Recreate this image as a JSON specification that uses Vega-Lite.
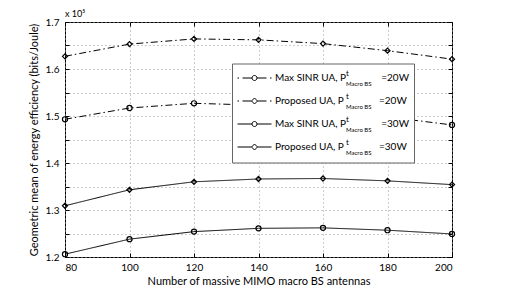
{
  "$schema": "https://vega.github.io/schema/vega-lite/v6.json",
  "width": 387,
  "height": 235,
  "autosize": {"type": "none"},
  "padding": {"left": 65, "top": 22, "right": 74, "bottom": 32},
  "background": "white",
  "title": {"text": "x 10⁵", "anchor": "start", "frame": "group", "font": "Lato", "fontSize": 9, "fontWeight": "normal", "offset": 3, "dy": 5, "color": "black"},
  "config": {
    "view": {"stroke": "black", "strokeWidth": 1},
    "axis": {"labelFont": "Lato", "titleFont": "Lato", "labelColor": "black", "titleColor": "black", "titleFontWeight": "normal", "domainColor": "black", "tickColor": "black"}
  },
  "data": {
    "values": [
      {"n": 80, "ee": 149300, "series": "Max SINR UA, 20W"},
      {"n": 100, "ee": 151700, "series": "Max SINR UA, 20W"},
      {"n": 120, "ee": 152700, "series": "Max SINR UA, 20W"},
      {"n": 140, "ee": 152300, "series": "Max SINR UA, 20W"},
      {"n": 160, "ee": 151200, "series": "Max SINR UA, 20W"},
      {"n": 180, "ee": 149800, "series": "Max SINR UA, 20W"},
      {"n": 200, "ee": 148100, "series": "Max SINR UA, 20W"},
      {"n": 80, "ee": 162700, "series": "Proposed UA, 20W"},
      {"n": 100, "ee": 165300, "series": "Proposed UA, 20W"},
      {"n": 120, "ee": 166400, "series": "Proposed UA, 20W"},
      {"n": 140, "ee": 166200, "series": "Proposed UA, 20W"},
      {"n": 160, "ee": 165400, "series": "Proposed UA, 20W"},
      {"n": 180, "ee": 163900, "series": "Proposed UA, 20W"},
      {"n": 200, "ee": 162100, "series": "Proposed UA, 20W"},
      {"n": 80, "ee": 120600, "series": "Max SINR UA, 30W"},
      {"n": 100, "ee": 123800, "series": "Max SINR UA, 30W"},
      {"n": 120, "ee": 125400, "series": "Max SINR UA, 30W"},
      {"n": 140, "ee": 126100, "series": "Max SINR UA, 30W"},
      {"n": 160, "ee": 126200, "series": "Max SINR UA, 30W"},
      {"n": 180, "ee": 125700, "series": "Max SINR UA, 30W"},
      {"n": 200, "ee": 124900, "series": "Max SINR UA, 30W"},
      {"n": 80, "ee": 130900, "series": "Proposed UA, 30W"},
      {"n": 100, "ee": 134300, "series": "Proposed UA, 30W"},
      {"n": 120, "ee": 136000, "series": "Proposed UA, 30W"},
      {"n": 140, "ee": 136600, "series": "Proposed UA, 30W"},
      {"n": 160, "ee": 136700, "series": "Proposed UA, 30W"},
      {"n": 180, "ee": 136200, "series": "Proposed UA, 30W"},
      {"n": 200, "ee": 135400, "series": "Proposed UA, 30W"}
    ]
  },
  "encoding": {
    "x": {"field": "n", "type": "quantitative", "scale": {"domain": [80, 200], "nice": false, "zero": false}},
    "y": {"field": "ee", "type": "quantitative", "scale": {"domain": [120000, 170000], "nice": false, "zero": false}}
  },
  "layer": [
    {
      "mark": {"type": "line", "color": "black", "strokeWidth": 1},
      "encoding": {
        "x": {"field": "n", "type": "quantitative", "axis": {"values": [80, 100, 120, 140, 160, 180, 200], "title": "Number of massive MIMO macro BS antennas", "grid": true, "gridDash": [1, 3], "gridColor": "#999", "gridOpacity": 1, "tickSize": -4, "labelPadding": 9, "labelFontSize": 10, "titleFontSize": 11, "titlePadding": 3, "domain": false}},
        "y": {"field": "ee", "type": "quantitative", "axis": {"values": [120000, 125000, 130000, 135000, 140000, 145000, 150000, 155000, 160000, 165000, 170000], "labelExpr": "datum.value % 10000 == 0 ? format(datum.value / 100000, '.1f') : ''", "title": "Geometric mean of energy efficiency (bits/Joule)", "grid": true, "gridDash": [1, 3], "gridColor": "#999", "gridOpacity": 1, "tickSize": -4, "labelPadding": 10, "labelFontSize": 10, "titleFontSize": 11, "titlePadding": 6, "domain": false}},
        "strokeDash": {"field": "series", "type": "nominal", "scale": {"domain": ["Max SINR UA, 20W", "Proposed UA, 20W", "Max SINR UA, 30W", "Proposed UA, 30W"], "range": [[7, 3, 1.5, 3], [7, 3, 1.5, 3], [1, 0], [1, 0]]}, "legend": null}
      }
    },
    {
      "mark": {"type": "point", "filled": false, "color": "black", "size": 26, "strokeWidth": 1.2, "opacity": 1},
      "encoding": {
        "x": {"field": "n", "type": "quantitative", "axis": null},
        "y": {"field": "ee", "type": "quantitative", "axis": null},
        "shape": {"field": "series", "type": "nominal", "scale": {"domain": ["Max SINR UA, 20W", "Proposed UA, 20W", "Max SINR UA, 30W", "Proposed UA, 30W"], "range": ["circle", "diamond", "circle", "diamond"]}, "legend": null}
      }
    },
    {
      "mark": {"type": "point", "opacity": 0},
      "encoding": {
        "x": {"field": "n", "type": "quantitative", "axis": null},
        "y": {"field": "ee", "type": "quantitative", "axis": null},
        "shape": {"field": "series", "type": "nominal",
          "scale": {"domain": ["Max SINR UA, 20W", "Proposed UA, 20W", "Max SINR UA, 30W", "Proposed UA, 30W"],
            "range": [
              "M-1.7,-0.9M1.7,0.9M-1.7,0L-1.55,0M-1.2,0L-0.25,0M0.25,0A0.25,0.25 0 1,1 -0.25,0A0.25,0.25 0 1,1 0.25,0M0.25,0L1.2,0M1.55,0L1.7,0",
              "M-1.7,-0.9M1.7,0.9M-1.7,0L-1.55,0M-1.2,0L-0.3,0M0,-0.3L0.3,0L0,0.3L-0.3,0ZM0.3,0L1.2,0M1.55,0L1.7,0",
              "M-1.7,-0.9M1.7,0.9M-1.7,0L-0.25,0M0.25,0A0.25,0.25 0 1,1 -0.25,0A0.25,0.25 0 1,1 0.25,0M0.25,0L1.7,0",
              "M-1.7,-0.9M1.7,0.9M-1.7,0L-0.3,0M0,-0.3L0.3,0L0,0.3L-0.3,0ZM0.3,0L1.7,0"
            ]},
          "legend": {"title": null, "orient": "none", "legendX": 167, "legendY": 41.5, "direction": "vertical", "padding": 4, "strokeColor": "#666", "fillColor": "white", "symbolSize": 400, "symbolOffset": 8, "symbolStrokeColor": "black", "symbolStrokeWidth": 1, "symbolFillColor": "transparent", "symbolOpacity": 1, "labelFont": "Lato", "labelFontSize": 10, "labelColor": "black", "labelOffset": 10, "labelLimit": 0, "rowPadding": 0,
            "labelExpr": "replace(datum.label, ', ', ', P\u2002\u2002\u2002\u2002\u2002\u2002\u00a0\u00a0=') + '\u2002'"}
        }
      }
    },
    {
      "mark": {"type": "point", "opacity": 0},
      "encoding": {
        "x": {"field": "n", "type": "quantitative", "axis": null},
        "y": {"field": "ee", "type": "quantitative", "axis": null},
        "shape": {"field": "series", "type": "nominal",
          "scale": {"domain": ["Max SINR UA, 20W", "Proposed UA, 20W", "Max SINR UA, 30W", "Proposed UA, 30W"],
            "range": [
              "M-1.7,-0.9M1.7,0.9M-1.7,0L-1.55,0M-1.2,0L-0.25,0M0.25,0A0.25,0.25 0 1,1 -0.25,0A0.25,0.25 0 1,1 0.25,0M0.25,0L1.2,0M1.55,0L1.7,0",
              "M-1.7,-0.9M1.7,0.9M-1.7,0L-1.55,0M-1.2,0L-0.3,0M0,-0.3L0.3,0L0,0.3L-0.3,0ZM0.3,0L1.2,0M1.55,0L1.7,0",
              "M-1.7,-0.9M1.7,0.9M-1.7,0L-0.25,0M0.25,0A0.25,0.25 0 1,1 -0.25,0A0.25,0.25 0 1,1 0.25,0M0.25,0L1.7,0",
              "M-1.7,-0.9M1.7,0.9M-1.7,0L-0.3,0M0,-0.3L0.3,0L0,0.3L-0.3,0ZM0.3,0L1.7,0"
            ]},
          "legend": {"title": null, "orient": "none", "legendX": 238, "legendY": 38.5, "direction": "vertical", "padding": 3, "symbolSize": 400, "symbolOffset": 9, "symbolStrokeWidth": 1, "symbolOpacity": 0, "labelFont": "Lato", "labelFontSize": 8, "labelColor": "black", "labelOffset": 10, "rowPadding": 3, "labelExpr": "'t'"}
        }
      }
    },
    {
      "mark": {"type": "point", "opacity": 0},
      "encoding": {
        "x": {"field": "n", "type": "quantitative", "axis": null},
        "y": {"field": "ee", "type": "quantitative", "axis": null},
        "shape": {"field": "series", "type": "nominal",
          "scale": {"domain": ["Max SINR UA, 20W", "Proposed UA, 20W", "Max SINR UA, 30W", "Proposed UA, 30W"],
            "range": [
              "M-1.7,-0.9M1.7,0.9M-1.7,0L-1.55,0M-1.2,0L-0.25,0M0.25,0A0.25,0.25 0 1,1 -0.25,0A0.25,0.25 0 1,1 0.25,0M0.25,0L1.2,0M1.55,0L1.7,0",
              "M-1.7,-0.9M1.7,0.9M-1.7,0L-1.55,0M-1.2,0L-0.3,0M0,-0.3L0.3,0L0,0.3L-0.3,0ZM0.3,0L1.2,0M1.55,0L1.7,0",
              "M-1.7,-0.9M1.7,0.9M-1.7,0L-0.25,0M0.25,0A0.25,0.25 0 1,1 -0.25,0A0.25,0.25 0 1,1 0.25,0M0.25,0L1.7,0",
              "M-1.7,-0.9M1.7,0.9M-1.7,0L-0.3,0M0,-0.3L0.3,0L0,0.3L-0.3,0ZM0.3,0L1.7,0"
            ]},
          "legend": {"title": null, "orient": "none", "legendX": 238, "legendY": 48, "direction": "vertical", "padding": 3, "symbolSize": 400, "symbolOffset": 9, "symbolStrokeWidth": 1, "symbolOpacity": 0, "labelFont": "Lato", "labelFontSize": 6, "labelColor": "black", "labelOffset": 10, "rowPadding": 3, "labelExpr": "'Macro BS'"}
        }
      }
    },
    {
      "mark": {"type": "line", "opacity": 0},
      "encoding": {
        "x": {"field": "n", "type": "quantitative", "axis": {"orient": "top", "values": [80, 100, 120, 140, 160, 180, 200], "labels": false, "title": null, "grid": false, "domain": false, "tickSize": -4}},
        "y": {"field": "ee", "type": "quantitative", "axis": {"orient": "right", "values": [120000, 125000, 130000, 135000, 140000, 145000, 150000, 155000, 160000, 165000, 170000], "labels": false, "title": null, "grid": false, "domain": false, "tickSize": -4}},
        "detail": {"field": "series", "type": "nominal"}
      }
    }
  ],
  "resolve": {"scale": {"shape": "independent"}, "legend": {"shape": "independent"}, "axis": {"x": "independent", "y": "independent"}}
}
